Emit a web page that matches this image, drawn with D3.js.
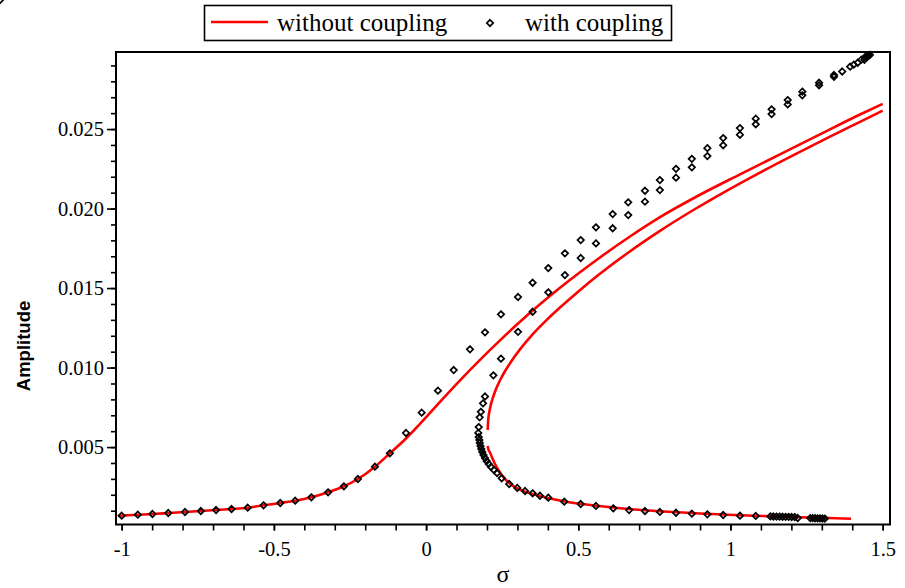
<!DOCTYPE html>
<html>
<head>
<meta charset="utf-8">
<script src="https://cdn.jsdelivr.net/npm/d3@7"></script>
<style>
  html, body { margin: 0; padding: 0; background: #fff; overflow: hidden; }
  svg { display: block; }
</style>
</head>
<body>
<svg id="chart" width="905" height="588"></svg>
<script>
// ---- data: frequency response (detuning sigma vs. amplitude) ----

// uncoupled response, upper branch
const freeUpperSigma = [-1.012, -0.947, -0.899, -0.847, -0.792, -0.740, -0.690, -0.639, -0.586, -0.534,
  -0.479, -0.430, -0.377, -0.322, -0.270, -0.224, -0.168, -0.119, -0.066, -0.020, 0.0457, 0.1114,
  0.1771, 0.2428, 0.3085, 0.3742, 0.4399, 0.5056, 0.5713, 0.6698, 0.7684, 0.8998, 1.0312, 1.1626,
  1.294, 1.4254, 1.5];
const freeUpperAmp = [0.00068, 0.000748, 0.000792, 0.000855, 0.000918, 0.000981, 0.001044, 0.001107,
  0.001188, 0.001339, 0.001484, 0.001629, 0.001842, 0.002157, 0.002534, 0.002993, 0.003766, 0.004609,
  0.005539, 0.006464, 0.007847, 0.009199, 0.010488, 0.011714, 0.012877, 0.013977, 0.015015, 0.015996,
  0.016926, 0.018241, 0.01946, 0.020869, 0.022151, 0.023409, 0.024667, 0.025912, 0.02658];

// uncoupled response, unstable middle branch
const freeMiddleSigma = [0.2024, 0.2040, 0.2089, 0.2224, 0.2434, 0.2615, 0.2829, 0.3085, 0.3512, 0.3972,
  0.4399, 0.5023, 0.5647, 0.66, 0.7684, 0.8768, 0.9885, 1.0969, 1.2053, 1.317, 1.4254, 1.5];
const freeMiddleAmp = [0.006074, 0.006703, 0.007331, 0.008275, 0.009218, 0.009846, 0.010475, 0.011142,
  0.012117, 0.013016, 0.013776, 0.01482, 0.015801, 0.017178, 0.018599, 0.019894, 0.021133, 0.022265,
  0.023346, 0.024428, 0.025453, 0.026157];

// uncoupled response, lower branch
const freeLowerSigma = [0.2024, 0.2043, 0.2099, 0.2175, 0.2264, 0.2428, 0.2625, 0.2855, 0.3085, 0.3413,
  0.3906, 0.4563, 0.5384, 0.637, 0.7684, 0.8998, 1.0312, 1.1626, 1.294, 1.3958];
const freeLowerAmp = [0.005068, 0.004879, 0.004659, 0.004313, 0.003936, 0.003402, 0.00293, 0.002565,
  0.002326, 0.0021, 0.001849, 0.001578, 0.001358, 0.001157, 0.000962, 0.000824, 0.000717, 0.000629,
  0.000553, 0.000497];

// coupled response, upper branch (continuation points)
const coupledUpperSigma = [-1.0, -0.947, -0.899, -0.847, -0.792, -0.740, -0.690, -0.639, -0.586, -0.534,
  -0.479, -0.430, -0.377, -0.322, -0.270, -0.224, -0.168, -0.119, -0.066, -0.0145, 0.039, 0.0907,
  0.1442, 0.1935, 0.246, 0.302, 0.350, 0.4014, 0.456, 0.508, 0.558, 0.613, 0.664, 0.719, 0.768,
  0.821, 0.873, 0.924, 0.976, 1.031, 1.083, 1.135, 1.188, 1.236, 1.291, 1.340, 1.393, 1.418, 1.440,
  1.449, 1.453, 1.456];
const coupledUpperAmp = [0.000685, 0.000748, 0.000792, 0.000855, 0.000918, 0.000981, 0.001044, 0.001107,
  0.001188, 0.001339, 0.001484, 0.001629, 0.001842, 0.002157, 0.002534, 0.002993, 0.003766, 0.004609,
  0.005885, 0.007162, 0.008545, 0.009846, 0.011148, 0.012217, 0.013349, 0.014437, 0.015336, 0.01626,
  0.017184, 0.01802, 0.01882, 0.019655, 0.02039, 0.02112, 0.02179, 0.0225, 0.02313, 0.0238, 0.02443,
  0.02506, 0.02565, 0.02624, 0.02682, 0.02735, 0.02791, 0.0284, 0.02892, 0.02917, 0.02935, 0.02955,
  0.0296, 0.02965];

// coupled response, middle and lower branches (continuation points)
const coupledLowerSigma = [1.458, 1.452, 1.447, 1.441, 1.430, 1.405, 1.367, 1.340, 1.291, 1.236, 1.188,
  1.135, 1.083, 1.031, 0.976, 0.924, 0.873, 0.821, 0.768, 0.719, 0.664, 0.613, 0.558, 0.508, 0.456,
  0.4014, 0.350, 0.302, 0.246, 0.221, 0.1935, 0.187, 0.180, 0.176, 0.173, 0.1715, 0.173, 0.175,
  0.1765, 0.1787, 0.1814, 0.1847, 0.1886, 0.1935, 0.199, 0.2056, 0.2132, 0.2231, 0.2329, 0.2484,
  0.273, 0.2996, 0.325, 0.350, 0.374, 0.4014, 0.454, 0.508, 0.558, 0.615, 0.667, 0.719, 0.768,
  0.821, 0.873, 0.924, 0.976, 1.031, 1.083, 1.131, 1.141, 1.151, 1.161, 1.171, 1.181, 1.191, 1.201,
  1.211, 1.221, 1.262, 1.270, 1.278, 1.286, 1.294, 1.302, 1.310, 1.318];
const coupledLowerAmp = [0.02967, 0.02962, 0.02957, 0.02950, 0.02936, 0.02905, 0.02862, 0.02829,
  0.02775, 0.02712, 0.02655, 0.02594, 0.0253, 0.02464, 0.02398, 0.0233, 0.02259, 0.02194, 0.02116,
  0.02043, 0.01959, 0.01876, 0.01781, 0.01689, 0.01582, 0.01473, 0.01351, 0.01225, 0.01056, 0.00951,
  0.00818, 0.00775, 0.00722, 0.00687, 0.00626, 0.00589, 0.00563, 0.00545, 0.00526, 0.00507, 0.00488,
  0.00469, 0.0045, 0.00431, 0.00412, 0.00394, 0.00375, 0.00356, 0.00337, 0.00304, 0.00268, 0.00243,
  0.00224, 0.00209, 0.00194, 0.00182, 0.00157, 0.00142, 0.0013, 0.00115, 0.00104, 0.00098, 0.00092,
  0.00087, 0.00081, 0.00077, 0.00073, 0.00069, 0.00067, 0.00064, 0.000635, 0.00063, 0.000625, 0.00062,
  0.000615, 0.00061, 0.000605, 0.0006, 0.00054, 0.000535, 0.00053, 0.000525, 0.00052, 0.000515,
  0.00051, 0.000505];

// axis ticks
const xMajorTicks = [-1, -0.5, 0, 0.5, 1, 1.5];
const xMajorLabels = ["-1", "-0.5", "0", "0.5", "1", "1.5"];
const xMinorTicks = d3.range(-10, 16).map(i => i / 10);
const yMajorTicks = [0.005, 0.010, 0.015, 0.020, 0.025];
const yMajorLabels = ["0.005", "0.010", "0.015", "0.020", "0.025"];
const yMinorTicks = d3.range(1, 30).map(i => i / 1000);

const seriesNames = ["without coupling", "with coupling"];

// ---- layout ----
const svg = d3.select("#chart");
const plot = { left: 116, right: 890, top: 52, bottom: 524.5 };

const x = d3.scaleLinear().domain([-1.0187, 1.524]).range([plot.left, plot.right]);
const y = d3.scaleLinear().domain([0.000132, 0.029845]).range([plot.bottom, plot.top]);

const serif = "'Liberation Serif', 'Times New Roman', serif";
const sans = "'Liberation Sans', Arial, sans-serif";

const zip = (xs, ys) => xs.map((v, i) => [v, ys[i]]);

// clip region for the curves
svg.append("clipPath").attr("id", "plotClip")
  .append("rect")
  .attr("x", plot.left).attr("y", plot.top - 6)
  .attr("width", plot.right - plot.left).attr("height", plot.bottom - plot.top + 6);

// ---- uncoupled curves ----
const line = d3.line()
  .x(d => x(d[0]))
  .y(d => y(d[1]))
  .curve(d3.curveMonotoneX);

const curves = [
  zip(freeUpperSigma, freeUpperAmp),
  zip(freeMiddleSigma, freeMiddleAmp),
  zip(freeLowerSigma, freeLowerAmp)
];

svg.append("g")
  .attr("clip-path", "url(#plotClip)")
  .selectAll("path")
  .data(curves)
  .join("path")
  .attr("d", line)
  .attr("fill", "none")
  .attr("stroke", "#ff0000")
  .attr("stroke-width", 2.6)
  .attr("stroke-linejoin", "round");

// ---- coupled points ----
const diamond = r => `M0,${-r}L${r},0L0,${r}L${-r},0Z`;
const coupledPoints = zip(coupledUpperSigma, coupledUpperAmp)
  .concat(zip(coupledLowerSigma, coupledLowerAmp));

svg.append("g")
  .selectAll("path")
  .data(coupledPoints)
  .join("path")
  .attr("transform", d => `translate(${x(d[0])},${y(d[1])})`)
  .attr("d", diamond(3.2))
  .attr("fill", "none")
  .attr("stroke", "#000")
  .attr("stroke-width", 1.7);

// ---- axes ----
const xAxisMinor = d3.axisBottom(x).tickValues(xMinorTicks).tickSize(6).tickFormat("");
const xAxisMajor = d3.axisBottom(x).tickValues(xMajorTicks).tickSize(6)
  .tickFormat((d, i) => xMajorLabels[i]).tickPadding(10);

const gxMinor = svg.append("g").attr("transform", `translate(0,${plot.bottom})`).call(xAxisMinor);
const gxMajor = svg.append("g").attr("transform", `translate(0,${plot.bottom})`).call(xAxisMajor);

const yAxisMinor = d3.axisLeft(y).tickValues(yMinorTicks).tickSize(5).tickFormat("");
const yAxisMajor = d3.axisLeft(y).tickValues(yMajorTicks).tickSize(9)
  .tickFormat((d, i) => yMajorLabels[i]).tickPadding(3);

const gyMinor = svg.append("g").attr("transform", `translate(${plot.left},0)`).call(yAxisMinor);
const gyMajor = svg.append("g").attr("transform", `translate(${plot.left},0)`).call(yAxisMajor);

[gxMinor, gxMajor, gyMinor, gyMajor].forEach(g => {
  g.select(".domain").remove();
  g.selectAll(".tick line").attr("stroke", "#000").attr("stroke-width", 1.6);
  g.selectAll(".tick text")
    .attr("fill", "#000")
    .style("font-family", serif)
    .style("font-size", "20.5px");
});
gxMajor.selectAll(".tick text").attr("dy", "0.75em");

// frame around the plotting area
svg.append("rect")
  .attr("x", plot.left).attr("y", plot.top)
  .attr("width", plot.right - plot.left).attr("height", plot.bottom - plot.top)
  .attr("fill", "none")
  .attr("stroke", "#000")
  .attr("stroke-width", 2);

// axis titles
svg.append("text")
  .attr("x", (plot.left + plot.right) / 2)
  .attr("y", 582)
  .attr("text-anchor", "middle")
  .style("font-family", serif)
  .style("font-size", "24px")
  .text("σ");

svg.append("text")
  .attr("transform", "translate(30,346) rotate(-90)")
  .attr("text-anchor", "middle")
  .style("font-family", sans)
  .style("font-weight", "bold")
  .style("font-size", "18.5px")
  .text("Amplitude");

// ---- legend ----
const legend = svg.append("g");
legend.append("rect")
  .attr("x", 204.5).attr("y", 5.5).attr("width", 467).attr("height", 35)
  .attr("fill", "#fff").attr("stroke", "#000").attr("stroke-width", 1.6);
legend.append("line")
  .attr("x1", 211).attr("x2", 268).attr("y1", 22).attr("y2", 22)
  .attr("stroke", "#ff0000").attr("stroke-width", 2.5);
legend.append("text")
  .attr("x", 277).attr("y", 31)
  .style("font-family", serif).style("font-size", "25px")
  .text(seriesNames[0]);
legend.append("path")
  .attr("transform", "translate(490,23)")
  .attr("d", diamond(3.2))
  .attr("fill", "none").attr("stroke", "#000").attr("stroke-width", 1.7);
legend.append("text")
  .attr("x", 525).attr("y", 31)
  .style("font-family", serif).style("font-size", "25px")
  .text(seriesNames[1]);
</script>
</body>
</html>
